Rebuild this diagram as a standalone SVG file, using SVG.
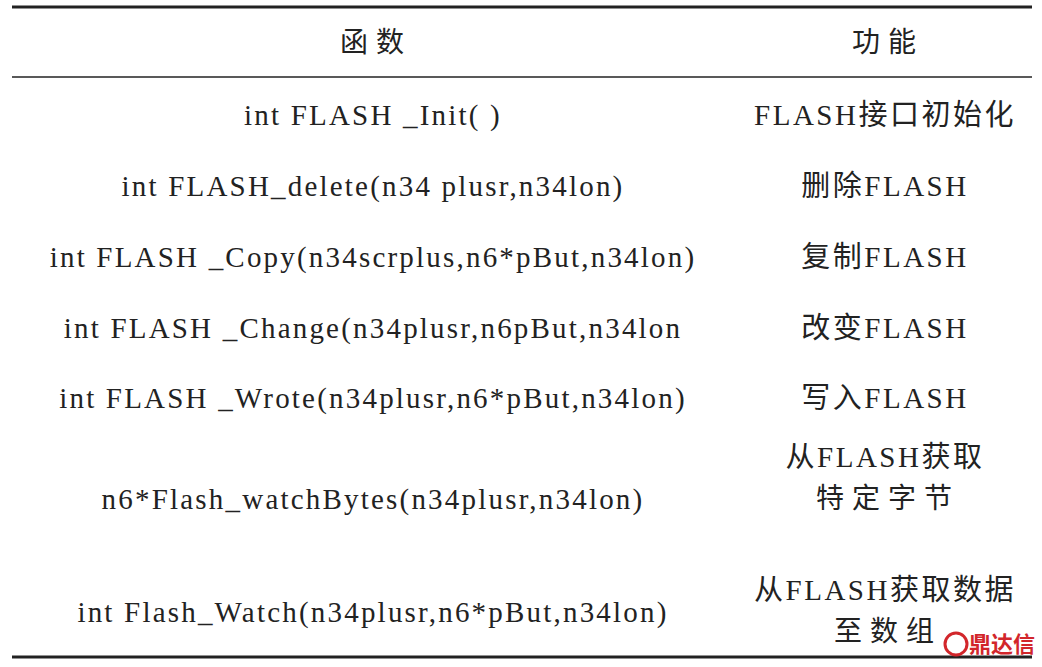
<svg xmlns="http://www.w3.org/2000/svg" width="1042" height="667" viewBox="0 0 1042 667">
<style>
.t{font-family:"Liberation Serif","Noto Sans CJK SC",serif;font-size:28px;fill:#222;text-anchor:middle}
.a{font-size:29px;letter-spacing:2.2px}
.b{font-size:29px;letter-spacing:2.5px}
.c{letter-spacing:8px}
.w{font-family:"Noto Sans CJK SC",sans-serif;font-size:22px;font-weight:bold;fill:#d2262b}
</style>
<rect width="1042" height="667" fill="#fff"/>
<g id="rules" stroke="#222">
<line x1="12" y1="7" x2="1032" y2="7" stroke-width="3"/>
<line x1="12" y1="77" x2="1032" y2="77" stroke-width="1.5"/>
<line x1="12" y1="657" x2="1032" y2="657" stroke-width="3"/>
</g>
<g id="header">
<text class="t c" x="376" y="52">函数</text>
<text class="t c" x="888" y="52">功能</text>
</g>
<g id="col1">
<text class="t a" x="373" y="125">int FLASH _Init( )</text>
<text class="t a" x="373" y="196">int FLASH_delete(n34 plusr,n34lon)</text>
<text class="t a" x="373" y="267">int FLASH _Copy(n34scrplus,n6*pBut,n34lon)</text>
<text class="t a" x="373" y="338">int FLASH _Change(n34plusr,n6pBut,n34lon</text>
<text class="t a" x="373" y="408">int FLASH _Wrote(n34plusr,n6*pBut,n34lon)</text>
<text class="t a" x="373" y="509">n6*Flash_watchBytes(n34plusr,n34lon)</text>
<text class="t a" x="373" y="622">int Flash_Watch(n34plusr,n6*pBut,n34lon)</text>
</g>
<g id="col2">
<text class="t b" x="885" y="125">FLASH接口初始化</text>
<text class="t b" x="885" y="196">删除FLASH</text>
<text class="t b" x="885" y="267">复制FLASH</text>
<text class="t b" x="885" y="338">改变FLASH</text>
<text class="t b" x="885" y="408">写入FLASH</text>
<text class="t b" x="885" y="467">从FLASH获取</text>
<text class="t c" x="888" y="508">特定字节</text>
<text class="t b" x="885" y="600">从FLASH获取数据</text>
<text class="t c" x="888" y="641">至数组</text>
</g>
<g id="watermark">
<circle cx="956" cy="644" r="11" fill="none" stroke="#d2262b" stroke-width="3"/>
<text class="w" x="969" y="652">鼎达信</text>
</g>
</svg>
